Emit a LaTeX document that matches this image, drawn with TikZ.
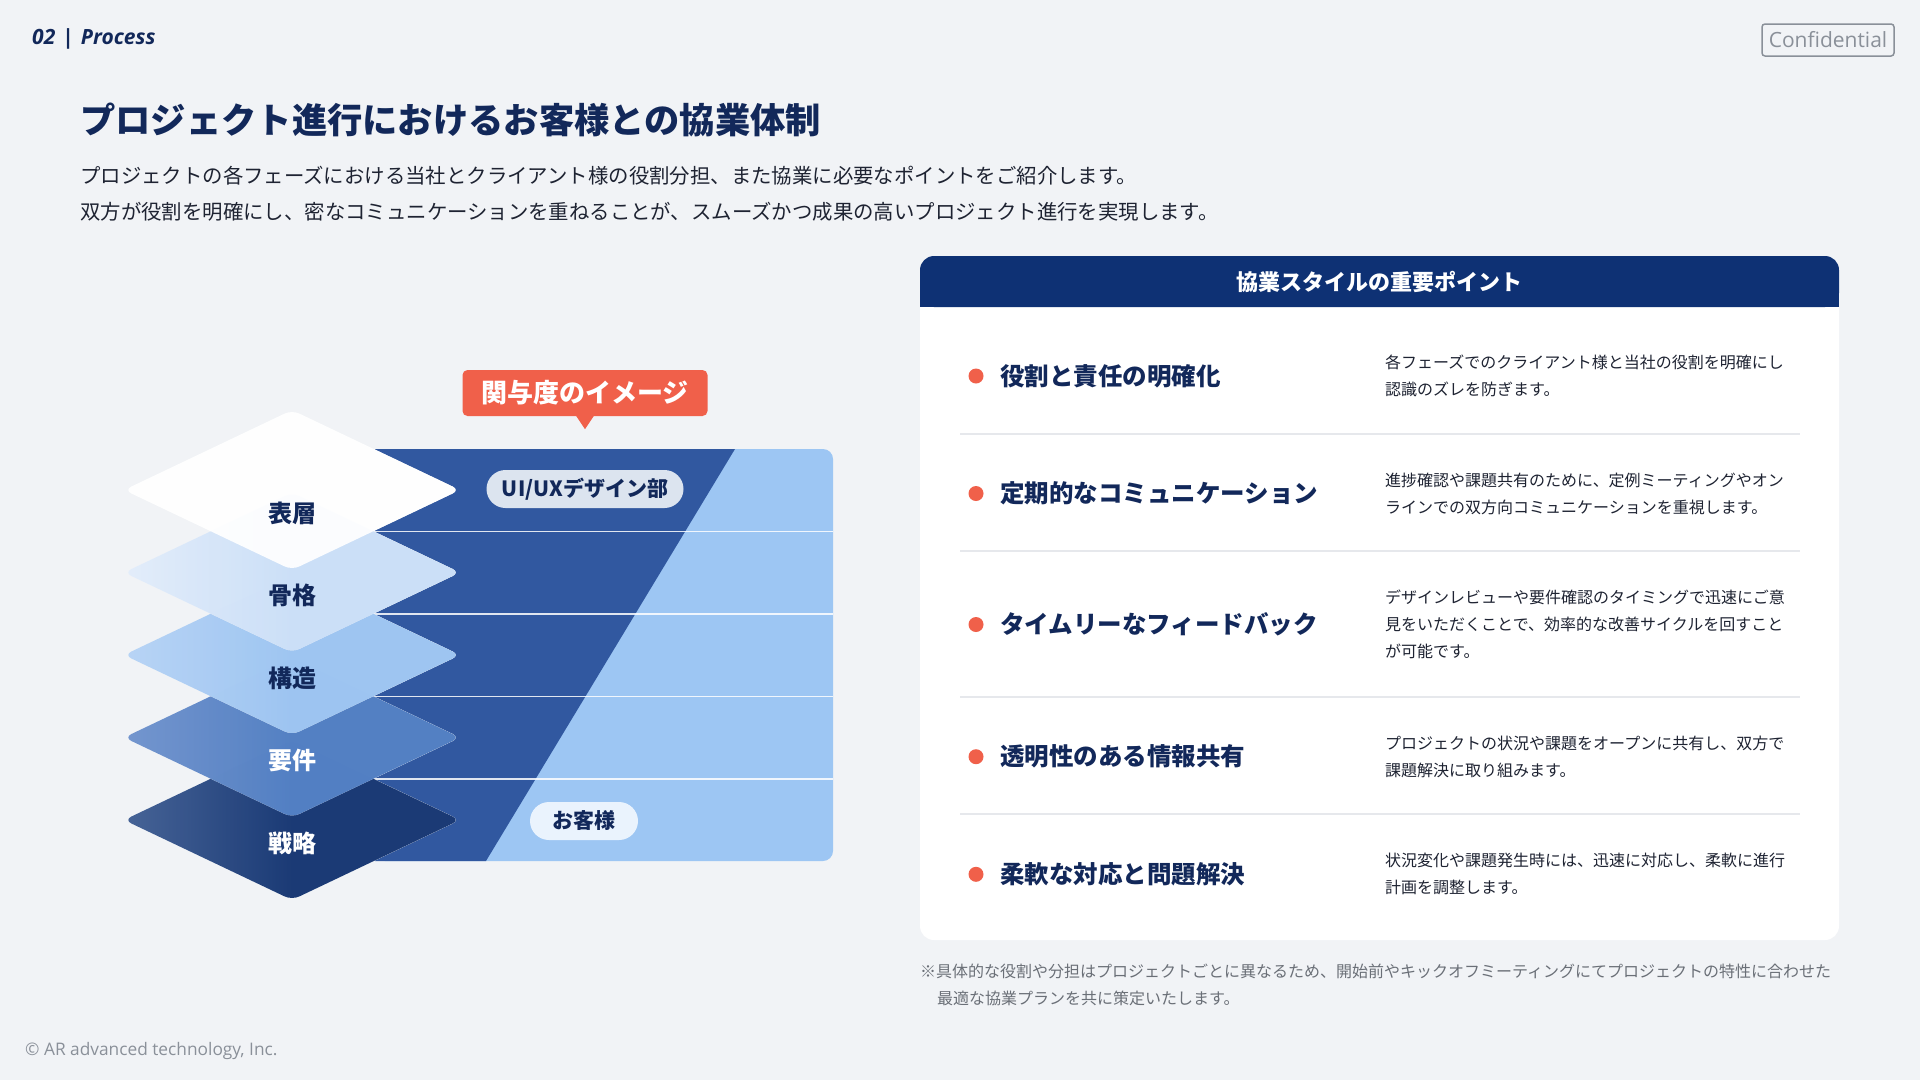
\documentclass[tikz,border=0pt]{standalone}
\usepackage{fontspec}
\setmainfont{Noto Sans CJK JP}
\newfontfamily\latinfont{Open Sans}
\usepackage{tikz}
\usetikzlibrary{shapes.geometric, positioning, calc}
\definecolor{bggray}{HTML}{F1F3F6}
\definecolor{navy}{HTML}{12285A}
\definecolor{hdrnavy}{HTML}{0E3174}
\definecolor{banddark}{HTML}{3158A0}
\definecolor{bandlight}{HTML}{9DC6F3}
\definecolor{coral}{HTML}{F0604A}
\definecolor{inktext}{HTML}{1E2332}
\definecolor{mutegray}{HTML}{8A9099}
\definecolor{notegray}{HTML}{6A6F77}
\definecolor{rulegray}{HTML}{E6E8EC}
\definecolor{pillgray}{HTML}{DCE4EF}
\definecolor{pilllight}{HTML}{EAF3FD}
\definecolor{senryakuL}{HTML}{3A5990}
\definecolor{senryakuR}{HTML}{0B2D6C}
\definecolor{yokenL}{HTML}{6B8FCB}
\definecolor{yokenR}{HTML}{4878C0}
\definecolor{kozoL}{HTML}{B4D2F5}
\definecolor{kozoR}{HTML}{98C2F1}
\definecolor{kokkakuL}{HTML}{E2EDFB}
\definecolor{kokkakuR}{HTML}{C9DEF8}

\begin{document}
\begin{tikzpicture}[
  x=1pt, y=-1pt,
  layer_base/.style={diamond, minimum width=336pt, minimum height=160pt, inner sep=0pt, rounded corners=8pt, fill=bggray},
  layer/.style={layer_base, fill opacity=0.93},
  layer_txt/.style={font=\fontsize{24}{28}\selectfont\bfseries, text=navy},
  pill/.style={rectangle, rounded corners=19pt, minimum height=38pt, inner xsep=14pt, font=\fontsize{21}{24}\selectfont\bfseries, text=navy},
  point_dot/.style={circle, fill=coral, minimum size=15pt, inner sep=0pt},
  point_title/.style={anchor=west, inner sep=0pt, font=\fontsize{24.5}{28}\selectfont\bfseries, text=navy},
  point_desc/.style={anchor=west, inner sep=0pt, align=left, font=\fontsize{16}{27}\selectfont, text=inktext},
  sep/.style={draw=rulegray, line width=2pt},
  rowline/.style={draw=white, line width=1.5pt, draw opacity=0.85}
]

% Page
\fill[bggray] (0,0) rectangle (1920,1080);
\useasboundingbox (0,0) rectangle (1920,1080);

% Header
\node[anchor=west, inner sep=0pt, text=navy, font=\latinfont\bfseries\itshape\fontsize{21}{24}\selectfont] (section) at (32,39) {02\,\,|\,\,Process};
\node[draw=mutegray, line width=1.5pt, rounded corners=3pt, text=mutegray, minimum width=132pt, minimum height=32pt, inner sep=0pt, font=\latinfont\fontsize{21}{24}\selectfont] (conf) at (1828,40) {Confidential};

% Title
\node[anchor=west, inner sep=0pt, text=navy, font=\fontsize{35.3}{40}\selectfont\bfseries] (title) at (80,120) {プロジェクト進行におけるお客様との協業体制};
\node[anchor=west, inner sep=0pt, text=inktext, font=\fontsize{20.4}{24}\selectfont] (sub1) at (80,176) {プロジェクトの各フェーズにおける当社とクライアント様の役割分担、また協業に必要なポイントをご紹介します。};
\node[anchor=west, inner sep=0pt, text=inktext, font=\fontsize{20.4}{24}\selectfont] (sub2) at (80,212) {双方が役割を明確にし、密なコミュニケーションを重ねることが、スムーズかつ成果の高いプロジェクト進行を実現します。};

% Involvement bands
\fill[bandlight, rounded corners=10pt] (375,449) rectangle (833,861);
\fill[banddark] (375,449) -- (735,449) -- (486,861) -- (375,861) -- cycle;
\foreach \yy in {531.25, 613.75, 696.25, 778.75}
  \draw[rowline] (375,\yy) -- (833,\yy);

% Callout
\node[fill=coral, rounded corners=5pt, minimum width=245pt, minimum height=46pt, inner sep=0pt, text=white, font=\fontsize{26}{30}\selectfont\bfseries] (callout) at (585,393) {関与度のイメージ};
\fill[coral] ([xshift=-9pt, yshift=0.5pt]callout.south) -- ([yshift=-13pt]callout.south) -- ([xshift=9pt, yshift=0.5pt]callout.south) -- cycle;

% Pills
\node[pill, fill=pillgray, minimum width=197pt] (uiux) at (585,489) {UI/UXデザイン部};
\node[pill, fill=pilllight, minimum width=108pt] (client) at (584,821) {お客様};

% Layers (bottom first), opaque base hides the bands
\foreach \cy [count=\i] in {820, 737.5, 655, 572.5, 490}
  \node[layer_base] (base\i) at (292,\cy) {};
\node[layer, left color=senryakuL, right color=senryakuR, middle color=senryakuR] (senryaku) at (292,820) {};
\node[layer, left color=yokenL, right color=yokenR, middle color=yokenR] (yoken) at (292,737.5) {};
\node[layer, left color=kozoL, right color=kozoR, middle color=kozoR] (kozo) at (292,655) {};
\node[layer, left color=kokkakuL, right color=kokkakuR, middle color=kokkakuR] (kokkaku) at (292,572.5) {};
\node[layer, fill=white] (hyoso) at (292,490) {};

\node[layer_txt] (hyoso_txt) at (292,513) {表層};
\node[layer_txt] (kokkaku_txt) at (292,595.5) {骨格};
\node[layer_txt] (kozo_txt) at (292,678) {構造};
\node[layer_txt, text=white] (yoken_txt) at (292,760.5) {要件};
\node[layer_txt, text=white] (senryaku_txt) at (292,843) {戦略};

% Key points card
\node[fill=white, rounded corners=14pt, minimum width=919pt, minimum height=684pt, inner sep=0pt] (card) at (1379.5,598) {};
\fill[hdrnavy, rounded corners=14pt] (920,256) rectangle (1839,307);
\fill[hdrnavy] (920,285) rectangle (1839,307);
\node[text=white, font=\fontsize{22}{26}\selectfont\bfseries] (card_hdr) at (1379.5,282) {協業スタイルの重要ポイント};

\foreach \yy in {433.5, 551, 696.7, 814.3}
  \draw[sep] (960,\yy) -- (1800,\yy);

\node[point_dot] (dot1) at (976,376) {};
\node[point_title] (pt1) at (1000,376) {役割と責任の明確化};
\node[point_desc] (desc1) at (1385,376) {各フェーズでのクライアント様と当社の役割を明確にし\\認識のズレを防ぎます。};

\node[point_dot] (dot2) at (976,493.5) {};
\node[point_title] (pt2) at (1000,493.5) {定期的なコミュニケーション};
\node[point_desc] (desc2) at (1385,493.5) {進捗確認や課題共有のために、定例ミーティングやオン\\ラインでの双方向コミュニケーションを重視します。};

\node[point_dot] (dot3) at (976,624.5) {};
\node[point_title] (pt3) at (1000,624.5) {タイムリーなフィードバック};
\node[point_desc] (desc3) at (1385,624.5) {デザインレビューや要件確認のタイミングで迅速にご意\\見をいただくことで、効率的な改善サイクルを回すこと\\が可能です。};

\node[point_dot] (dot4) at (976,756.7) {};
\node[point_title] (pt4) at (1000,756.7) {透明性のある情報共有};
\node[point_desc] (desc4) at (1385,756.7) {プロジェクトの状況や課題をオープンに共有し、双方で\\課題解決に取り組みます。};

\node[point_dot] (dot5) at (976,874.3) {};
\node[point_title] (pt5) at (1000,874.3) {柔軟な対応と問題解決};
\node[point_desc] (desc5) at (1385,874.3) {状況変化や課題発生時には、迅速に対応し、柔軟に進行\\計画を調整します。};

% Footnote
\node[anchor=west, inner sep=0pt, text=notegray, font=\fontsize{16}{20}\selectfont] (note1) at (920,971) {※具体的な役割や分担はプロジェクトごとに異なるため、開始前やキックオフミーティングにてプロジェクトの特性に合わせた};
\node[anchor=west, inner sep=0pt, text=notegray, font=\fontsize{16}{20}\selectfont] (note2) at (937,998) {最適な協業プランを共に策定いたします。};

% Footer
\node[anchor=west, inner sep=0pt, text=mutegray, font=\latinfont\fontsize{17.3}{20}\selectfont] (copyright) at (25,1051) {© AR advanced technology, Inc.};

\end{tikzpicture}
\end{document}
